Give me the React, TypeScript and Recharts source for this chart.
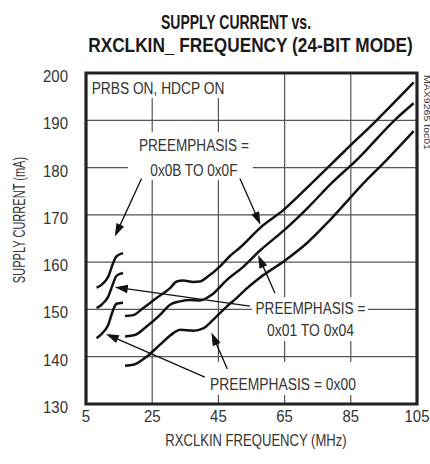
import React from 'react';
import { LineChart, Line, XAxis, YAxis, CartesianGrid, ReferenceArea, ReferenceLine, ReferenceDot } from 'recharts';

const FONT = '"Liberation Sans", Arial, sans-serif';

const xTicks = [5, 25, 45, 65, 85, 105];
const yTicks = [130, 140, 150, 160, 170, 180, 190, 200];

// short low-frequency traces (MHz / mA)
const lowFreq = [8.2, 9.7, 11.7, 13.2, 14.2, 16.2];
const lowTopMa = [154.6, 155.2, 156.9, 159.8, 161.2, 161.9];
const lowMidMa = [150.3, 151.0, 152.7, 155.5, 157.1, 157.7];
const lowBotMa = [143.9, 144.8, 146.7, 149.9, 151.2, 151.4];

// PREEMPHASIS = 0x0B TO 0x0F
const hiFreq = [16.8, 19.3, 22.3, 26.3, 30.4, 32.4, 34.4, 37.4, 39.4, 41.9, 45.5, 48.5, 51.7, 57.7, 64.6, 73.2, 83, 92.8, 104];
const hiMa = [148.6, 148.8, 150.3, 152.4, 154.5, 155.9, 156.1, 155.8, 155.9, 157.0, 159.1, 161.3, 163.2, 167.3, 171.0, 176.7, 183.4, 190.0, 198.0];

// PREEMPHASIS = 0x01 TO 0x04
const midFreq = [16.8, 19.8, 23.3, 27.3, 30.4, 33.4, 36.4, 39.4, 43.0, 47.5, 52.5, 57.5, 64.6, 72, 79.2, 87.2, 98.2, 104];
const midMa = [144.3, 144.6, 146.4, 148.8, 151.0, 151.7, 152.0, 151.9, 153.1, 156.2, 159.0, 162.4, 166.6, 171.5, 176.7, 181.9, 190.0, 193.6];

// PREEMPHASIS = 0x00
const zeroFreq = [16.8, 19.3, 23.3, 27.3, 31.4, 33.4, 37.4, 40.4, 43.4, 47.5, 50.5, 53.5, 57.5, 64.6, 71.7, 78.7, 89.8, 95.8, 104];
const zeroMa = [138.1, 138.3, 140.0, 142.5, 145.0, 145.7, 145.5, 146.0, 147.8, 150.6, 152.4, 154.4, 156.7, 160.1, 164.0, 168.9, 177.4, 181.6, 187.7];

const zip = (fs: number[], ms: number[]) => fs.map((f, i) => ({ f, ma: ms[i] }));

const series = [
  zip(lowFreq, lowTopMa),
  zip(lowFreq, lowMidMa),
  zip(lowFreq, lowBotMa),
  zip(hiFreq, hiMa),
  zip(midFreq, midMa),
  zip(zeroFreq, zeroMa),
];

// white patches behind the labels (they break the grid)
const patches = [
  { x1: 5.6, x2: 47.8, y1: 194.7, y2: 200 },
  { x1: 17.7, x2: 55.4, y1: 177.4, y2: 187.5 },
  { x1: 55.1, x2: 90.2, y1: 143.3, y2: 152.6 },
  { x1: 40.9, x2: 88.0, y1: 131.9, y2: 138.9 },
];

const notes = [
  { f: 6.7, ma: 195.6, text: 'PRBS ON, HDCP ON', anchor: 'start', sx: 0.81 },
  { f: 37.6, ma: 183.4, text: 'PREEMPHASIS =', anchor: 'middle', sx: 0.8 },
  { f: 37.6, ma: 178.2, text: '0x0B TO 0x0F', anchor: 'middle', sx: 0.8 },
  { f: 72.8, ma: 149.0, text: 'PREEMPHASIS =', anchor: 'middle', sx: 0.8 },
  { f: 72.8, ma: 144.4, text: '0x01 TO 0x04', anchor: 'middle', sx: 0.82 },
  { f: 64.5, ma: 133.0, text: 'PREEMPHASIS = 0x00', anchor: 'middle', sx: 0.815 },
];

// [fromF, fromMa, tipF, tipMa]
const arrows = [
  [21.8, 177.7, 13.7, 165.4],
  [51.5, 177.7, 57.7, 167.9],
  [62.1, 153.4, 57.0, 161.5],
  [54.5, 150.7, 13.7, 154.7],
  [40.9, 135.7, 11.0, 144.8],
  [47.7, 137.4, 42.9, 145.1],
];

// condensed text: the reference uses a narrow face, so squeeze horizontally
const CText = ({ x, y, sx, anchor = 'middle', size, weight = 'normal', fill = '#333', rotate = 0, children }: any) => (
  <text
    transform={`translate(${x} ${y}) rotate(${rotate}) scale(${sx} 1)`}
    textAnchor={anchor}
    fontSize={size}
    fontWeight={weight}
    fill={fill}
    fontFamily={FONT}
  >
    {children}
  </text>
);

const Arrow = (p: any) => {
  const { x1, y1, x2, y2 } = p;
  const dx = x2 - x1;
  const dy = y2 - y1;
  const len = Math.hypot(dx, dy) || 1;
  const ux = dx / len;
  const uy = dy / len;
  const hl = 13;
  const hw = 4.2;
  const bx = x2 - ux * hl;
  const by = y2 - uy * hl;
  return (
    <g>
      <line x1={x1} y1={y1} x2={bx + ux * 2} y2={by + uy * 2} stroke="#111" strokeWidth={1.3} />
      <polygon points={`${x2},${y2} ${bx - uy * hw},${by + ux * hw} ${bx + uy * hw},${by - ux * hw}`} fill="#111" />
    </g>
  );
};

const XTick = ({ x, y, payload }: any) => (
  <CText x={x} y={y + 18} sx={0.88} size={17}>
    {payload.value}
  </CText>
);

const YTick = ({ x, y, payload }: any) => (
  <CText x={x - 18} y={y + 9} sx={0.88} size={17} anchor="end">
    {payload.value}
  </CText>
);

export default function App() {
  return (
    <div style={{ position: 'absolute', left: 0, top: 0, width: 430, height: 464, background: '#fff' }}>
      <LineChart width={430} height={464} margin={{ top: 73, right: 13, bottom: 20, left: 26 }}>
        <CartesianGrid stroke="#555" strokeWidth={1.2} />
        <XAxis
          type="number"
          dataKey="f"
          domain={[5, 105]}
          ticks={xTicks}
          allowDataOverflow
          axisLine={false}
          tickLine={false}
          tickSize={0}
          tickMargin={0}
          height={40}
          tick={<XTick />}
        />
        <YAxis
          type="number"
          domain={[130, 200]}
          ticks={yTicks}
          allowDataOverflow
          axisLine={false}
          tickLine={false}
          tickSize={0}
          tickMargin={0}
          width={60}
          tick={<YTick />}
        />
        {patches.map((b, i) => (
          <ReferenceArea key={'p' + i} x1={b.x1} x2={b.x2} y1={b.y1} y2={b.y2} fill="#fff" fillOpacity={1} stroke="none" />
        ))}
        {series.map((d, i) => (
          <Line
            key={'s' + i}
            data={d}
            dataKey="ma"
            type="monotone"
            stroke="#111"
            strokeWidth={2.5}
            dot={false}
            activeDot={false}
            isAnimationActive={false}
          />
        ))}
        {arrows.map((a, i) => (
          <ReferenceLine
            key={'a' + i}
            segment={[{ x: a[0], y: a[1] }, { x: a[2], y: a[3] }]}
            shape={Arrow}
            ifOverflow="visible"
          />
        ))}
        {notes.map((n, i) => (
          <ReferenceDot
            key={'n' + i}
            x={n.f}
            y={n.ma}
            r={0}
            shape={(p: any) => (
              <CText x={p.cx} y={p.cy} sx={n.sx} size={17} anchor={n.anchor}>
                {n.text}
              </CText>
            )}
          />
        ))}
        <ReferenceArea x1={5} x2={105} y1={130} y2={200} fill="none" stroke="#222" strokeWidth={3.2} />
      </LineChart>
      <svg width={430} height={464} style={{ position: 'absolute', left: 0, top: 0, pointerEvents: 'none' }}>
        <CText x={236} y={29.3} sx={0.7} size={20} weight="bold" fill="#1a1a1a">
          SUPPLY CURRENT vs.
        </CText>
        <CText x={250.5} y={51.5} sx={0.863} size={20} weight="bold" fill="#1a1a1a">
          RXCLKIN_ FREQUENCY (24-BIT MODE)
        </CText>
        <CText x={256} y={446} sx={0.77} size={17}>
          RXCLKIN FREQUENCY (MHz)
        </CText>
        <CText x={25} y={220} sx={0.69} size={16} rotate={-90}>
          SUPPLY CURRENT (mA)
        </CText>
        <CText x={423.5} y={112.5} sx={1.24} size={8.5} rotate={90}>
          MAX9265 toc01
        </CText>
      </svg>
    </div>
  );
}
